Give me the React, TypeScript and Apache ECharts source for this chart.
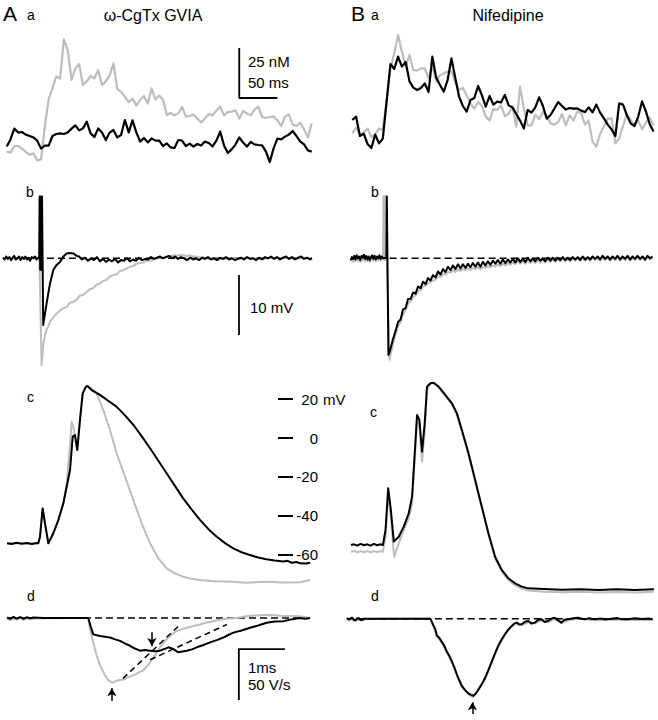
import React, { useEffect, useRef } from "react";
import * as echarts from "echarts";

// ---------- Panel a: [Ca2+] transients (nM above rest), sampled every 5 ms ----------
const A_DT = 5;
const AA_GRAY = [9.2, 8.7, 12, 12, 10.7, 9, 7.7, 8.3, 4.8, 5.3, 21.7, 35.5, 40.8, 46.8, 45.7, 65.3, 60, 45, 50.7, 53, 42.5, 44.3, 47, 45.8, 50, 42.5, 44.3, 47.2, 53.3, 40.5, 39, 36.7, 34, 35.7, 32.2, 35, 37, 33.2, 40.8, 35.3, 37.3, 35.2, 27.5, 28.5, 27.3, 28.3, 31.5, 26.7, 27, 27.8, 25.8, 23.7, 25.8, 28, 27.3, 29.7, 31.7, 27.3, 29, 29.2, 29.8, 25.7, 29.5, 28.3, 27.3, 30.2, 31.7, 26.5, 26, 26.5, 26.7, 24.8, 22, 26.7, 27.8, 22.8, 22, 23.7, 20.3, 16.3, 23.3];
const AA_BLACK = [11.7, 15.3, 20.7, 18.7, 19, 17.7, 17, 16.3, 14.7, 10.7, 12.2, 12.2, 17, 18, 18.3, 18, 18.8, 20.7, 22.3, 19.8, 20.8, 24.2, 18.3, 16.5, 20.8, 18.7, 15, 18.7, 20, 16.3, 17.5, 25, 18.8, 24.8, 18.8, 14.2, 16, 13.8, 15.8, 14.7, 14.7, 12, 13.3, 11.3, 11, 15, 14.7, 12, 13.2, 11.7, 13, 12.2, 14.2, 13.5, 11.8, 14.7, 19.2, 12.3, 8.5, 10.3, 12.7, 16.3, 13.7, 11.7, 14, 12.8, 12.5, 12.3, 9.2, 4, 10.8, 15.7, 15.3, 16.7, 17.7, 19.5, 17, 14.2, 12.8, 9.8, 9.2];
const BA_GRAY = [18.3, 21.2, 17.8, 18.7, 20.7, 16.5, 17.8, 20.8, 20, 35, 50.8, 58.3, 67.5, 59.2, 51.7, 57.5, 50, 49.7, 50.8, 50.8, 45.8, 51.7, 44.2, 47.5, 48.3, 49.2, 49.2, 43.8, 40, 41, 37.3, 33.3, 30.7, 34, 32, 26.7, 24.7, 30.5, 30, 32.3, 27, 28, 31.8, 21.7, 41.7, 30.8, 22.3, 22.3, 27.7, 25.5, 29, 26.7, 23.3, 22.7, 24, 28, 22.3, 27.3, 24.7, 29.2, 28.5, 22.8, 24.7, 14.3, 11.7, 18, 21.7, 25.7, 25.8, 13.3, 15.8, 22, 27.7, 25, 22.3, 24.7, 20.3, 23.7, 26.3, 22.3];
const BA_BLACK = [25, 26.7, 17, 18.2, 13, 11, 17.7, 13.3, 15.7, 34.2, 53, 50.5, 56.7, 51.7, 54, 44.3, 41.2, 40, 41, 43.3, 39, 56.7, 46.2, 42.5, 39.2, 45, 55.8, 46.2, 36.7, 32, 29.2, 35, 36, 42, 37.3, 31.7, 37, 32.7, 34.2, 33.8, 37.5, 32.3, 31.3, 28, 24.7, 20.8, 30, 28.7, 31.3, 36.3, 32, 25.7, 27.5, 30.7, 34, 32, 30.2, 31, 30.7, 30.8, 29.7, 29, 31.3, 28.8, 32.7, 28.7, 25.8, 22.7, 20.3, 17, 33.3, 32.7, 27.5, 23.3, 22, 26.7, 34.3, 29.3, 23, 19.2];
const AA_BAR = { t: 305, v: 36, dt: 50, dv: 25 };

// ---------- Panel b: membrane potential change (mV) vs time (ms) ----------
const AB_BLACK = [[0, 0.1], [0.8, -0.2], [1.6, 0.3], [2.4, -0.1], [3.2, 0.2], [4, -0.3], [4.8, 0.1], [5.6, 0.4], [6.4, -0.2], [7.2, 0], [8, 0.3], [8.8, -0.3], [9.6, 0.2], [10.4, -0.1], [11.2, 0.3], [12, -0.2], [12.8, 0.1], [13.6, -0.4], [14.4, 0.2], [15.2, 0], [16, 0.3], [16.8, -0.2], [17.6, 0.1], [18.1, 0], [18.3, 10.3], [18.6, -1.9], [18.9, 10.3], [19.2, -1.9], [19.5, 10.3], [20.1, -11.1], [21.8, -7.5], [23.5, -4.2], [25.2, -1.9], [26.8, -1.1], [28.5, -0.6], [30.2, 0.3], [31.8, 0.8], [33.5, 0.9], [35.2, 0.8], [36.8, 0.4], [38, 0.3], [39.5, -0.2], [41, 0.1], [42.5, -0.4], [44, 0], [45.5, -0.3], [47, 0.2], [48.5, -0.5], [50, -0.1], [51.5, -0.6], [53, -0.2], [54.5, -0.5], [56, -0.1], [57.5, -0.7], [59, -0.3], [60.5, -0.4], [62, 0], [63.5, -0.5], [65, -0.2], [66.5, -0.4], [68, 0.1], [69.5, -0.3], [71, -0.1], [72.5, -0.2], [74, 0.2], [75.5, -0.1], [77, 0.1], [78.5, 0.3], [80, 0], [81.5, 0.2], [83, 0.4], [84.5, 0], [86, 0.3], [87.5, -0.1], [89, 0.2], [90.5, 0], [92, -0.3], [93.5, 0.1], [95, -0.2], [96.5, 0], [98, -0.3], [99.5, 0.1], [101, -0.1], [102.5, 0.2], [104, -0.2], [105.5, 0], [107, -0.3], [108.5, 0.1], [110, -0.1], [111.5, 0.2], [113, -0.2], [114.5, 0], [116, -0.3], [117.5, -0.1], [119, 0.1], [120.5, -0.2], [122, 0.2], [123.5, -0.1], [125, 0], [126.5, -0.3], [128, 0.1], [129.5, -0.2], [131, 0.2], [132.5, 0], [134, 0.3], [135.5, -0.1], [137, 0.2], [138.5, -0.2], [140, 0.1], [141.5, 0.3], [143, -0.1], [144.5, 0.2], [146, -0.2], [147.5, 0.1], [149, 0.3], [150.5, -0.1], [152, 0.1], [153.5, -0.2], [154.5, 0]];
const AB_GRAY = [[0, 0], [3, 0.1], [6, -0.1], [9, 0.1], [12, -0.1], [15, 0.1], [18.2, 0], [19.3, -17.8], [20.2, -14.2], [21, -12.8], [21.8, -11.9], [22.6, -11.4], [23.5, -10.6], [25, -9.9], [26.8, -9.2], [28.5, -8.7], [30, -8.4], [31.8, -8.1], [33.5, -7.4], [35, -7.3], [36.8, -6.9], [38.5, -6.2], [40, -6.1], [41.8, -5.6], [43.5, -5.1], [45, -5.0], [46.8, -4.4], [48.5, -4.2], [50, -3.8], [51.8, -3.6], [53.5, -3.0], [55.2, -2.8], [57, -2.6], [58.5, -2.1], [60, -2.0], [61.8, -1.7], [63.5, -1.4], [65, -1.3], [66.8, -0.9], [68.5, -0.8], [70, -0.7], [72, -0.4], [73.5, -0.4], [75.2, -0.2], [77, 0], [78.5, 0.1], [80, 0.1], [81.8, 0.3], [83.5, 0.3], [85, 0.5], [87, 0.4], [88.5, 0.6], [90.2, 0.5], [92, 0.4], [93.5, 0.5], [95, 0.3], [97, 0.3], [98.5, 0.1], [100, 0.2], [102, 0], [104, -0.1], [106.8, -0.2], [110, -0.1], [114, 0], [118, -0.1], [122, 0.1], [126, 0], [130, -0.1], [134, 0.1], [138, 0], [142, 0.1], [146, -0.1], [150, 0.1], [154, 0]];
const AB_BAR = { t: 118, v: -12.8, dv: 10 };

const BB_TAIL_T0 = 20;
const BB_TAIL_DT = 1.25;
const BB_BLACK_HEAD = [[0, -0.3], [0.6, 0.2], [1.2, -0.1], [1.8, 0.4], [2.4, -0.2], [3, 0.5], [3.6, 0], [4.2, 0.3], [4.8, -0.3], [5.4, 0.4], [6, 0.1], [6.6, 0.6], [7.2, -0.1], [7.8, 0.4], [8.4, -0.2], [9, 0.3], [9.6, -0.3], [10.2, 0.2], [10.8, 0.5], [11.4, -0.1], [12, 0.4], [12.6, -0.2], [13.2, 0.3], [13.8, 0], [14.4, 0.5], [15, -0.1], [15.6, 0.3], [16.2, 0], [17.9, 0.1], [18.1, 10.3], [18.9, -16.1], [19.4, -15.7]];
const BB_BLACK_TAIL = [-15.0, -13.4, -12.1, -10.6, -10.2, -8.5, -8.3, -6.8, -6.8, -5.7, -5.9, -4.7, -5.0, -3.9, -4.3, -3.3, -3.7, -2.8, -3.2, -2.2, -2.7, -1.8, -2.3, -1.4, -2.0, -1.2, -1.8, -1.0, -1.7, -1.0, -1.6, -0.9, -1.5, -0.8, -1.4, -0.7, -1.4, -0.6, -1.2, -0.5, -1.1, -0.4, -0.9, -0.3, -0.9, -0.2, -0.8, -0.2, -0.7, -0.1, -0.7, 0, -0.6, -0.1, -0.6, 0.1, -0.5, 0, -0.5, 0.1, -0.4, 0, -0.5, 0.1, -0.4, 0.1, -0.4, 0.1, -0.3, 0.2, -0.3, 0.1, -0.3, 0.2, -0.2, 0.2, -0.3, 0.3, -0.2, 0.2, -0.2, 0.3, -0.1, 0.3, -0.2, 0.4, -0.1, 0.3, -0.2, 0.3, -0.1, 0.4, -0.2, 0.3, -0.1, 0.4, -0.2, 0.3, -0.1, 0.4, -0.1, 0.3, -0.2, 0.4, 0, 0.3];
const BB_GRAY_HEAD = [[0, -0.5], [0.6, -0.1], [1.2, -0.6], [1.8, 0], [2.4, -0.5], [3, 0.1], [3.6, -0.4], [4.2, 0], [4.8, -0.6], [5.4, 0], [6, -0.3], [6.6, 0.2], [7.2, -0.5], [7.8, 0], [8.4, -0.5], [9, 0], [9.6, -0.6], [10.2, -0.1], [10.8, 0.2], [11.4, -0.4], [12, 0.1], [12.6, -0.5], [13.2, 0], [13.8, -0.3], [14.4, 0.2], [15, -0.4], [15.6, 0], [16.2, -0.2], [16.4, 10.4], [16.8, -0.3], [17.1, 10.4], [17.5, -0.3], [17.8, 10.4], [18.1, 0], [19.5, -16.9]];
const BB_GRAY_TAIL = [-16.0, -14.3, -12.6, -11.3, -10.6, -9.3, -8.7, -7.6, -7.2, -6.5, -6.2, -5.5, -5.3, -4.7, -4.6, -4.1, -4.0, -3.7, -3.6, -3.0, -3.1, -2.6, -2.7, -2.3, -2.4, -2.0, -2.3, -1.9, -2.1, -1.8, -2.0, -1.7, -1.9, -1.6, -1.8, -1.5, -1.8, -1.4, -1.6, -1.3, -1.5, -1.2, -1.4, -1.0, -1.3, -0.9, -1.2, -0.8, -1.1, -0.7, -1.0, -0.5, -0.9, -0.5, -0.9, -0.4, -0.8, -0.4, -0.8, -0.3, -0.7, -0.3, -0.7, -0.2, -0.6, -0.2, -0.6, -0.2, -0.5, -0.1, -0.5, -0.1, -0.5, 0, -0.4, 0, -0.4, 0.1, -0.4, 0, -0.4, 0.1, -0.3, 0.1, -0.4, 0.2, -0.3, 0.1, -0.4, 0.1, -0.3, 0.2, -0.4, 0.1, -0.3, 0.2, -0.4, 0.1, -0.3, 0.2, -0.3, 0.1, -0.4, 0.2, -0.2, 0.1];

// ---------- Panel c: action potentials (mV) vs time (ms) ----------
const AC_BLACK = [[0, -54.3], [0.1, -54.6], [0.21, -54.0], [0.32, -54.5], [0.43, -54.1], [0.54, -54.6], [0.65, -54.1], [0.68, -54.3], [0.717, -50.9], [0.775, -36.3], [0.826, -44.0], [0.899, -54.3], [1.007, -49.1], [1.116, -42.3], [1.225, -33.7], [1.297, -25.1], [1.37, -16.5], [1.428, 0.7], [1.478, 1.5], [1.529, -6.2], [1.587, 9.3], [1.645, 23.0], [1.717, 26.5], [1.746, 26.8], [1.84, 24.7], [2.02, 22.2], [2.2, 19.2], [2.38, 16.2], [2.56, 11.8], [2.75, 6.7], [2.93, 0.8], [3.11, -5.3], [3.29, -11.7], [3.47, -18.2], [3.65, -24.7], [3.83, -31.1], [4.02, -37], [4.2, -42.3], [4.38, -47], [4.56, -50.9], [4.74, -54.2], [4.92, -56.9], [5.1, -58.9], [5.28, -60.3], [5.46, -61.6], [5.64, -62.5], [5.82, -63.2], [6.01, -63.7], [6.1, -63.3], [6.19, -64.3], [6.3, -63.9], [6.37, -64.6], [6.5, -64.7], [6.59, -64.3]];
const AC_GRAY = [[0, -54.3], [0.2, -54.1], [0.4, -54.4], [0.68, -54.3], [0.717, -50.9], [0.775, -36.3], [0.826, -44.0], [0.899, -54.3], [1.007, -49.1], [1.116, -42.3], [1.225, -33.4], [1.297, -24.2], [1.355, -7.9], [1.406, 8.4], [1.457, 4.1], [1.514, -5.3], [1.587, 9.3], [1.645, 23.0], [1.717, 26.5], [1.746, 26.8], [1.85, 25.5], [1.949, 23.0], [2.094, 14.4], [2.239, 4.1], [2.384, -7.9], [2.565, -19.9], [2.746, -32.0], [2.928, -44.0], [3.109, -54.3], [3.29, -62.0], [3.471, -67.2], [3.65, -69.8], [3.833, -71.5], [4.0, -72.5], [4.196, -73.2], [4.5, -73.8], [4.92, -74.1], [5.2, -74.6], [5.645, -74.1], [6.0, -74.5], [6.37, -74.4], [6.587, -73.2]];
const BC_BLACK = [[0, -55.2], [0.065, -54.8], [0.138, -55.5], [0.21, -54.6], [0.283, -55.3], [0.355, -54.8], [0.428, -55.5], [0.5, -54.6], [0.572, -55.3], [0.645, -54.8], [0.696, -55.2], [0.754, -47.4], [0.812, -25.9], [0.87, -37.1], [0.935, -53.4], [1.043, -50.9], [1.152, -45.7], [1.261, -38.8], [1.333, -30.2], [1.391, -7.9], [1.442, 11.9], [1.493, 9.3], [1.551, -7.0], [1.609, 7.6], [1.659, 26.5], [1.732, 28.2], [1.804, 28.5], [1.913, 26.5], [2.058, 22.2], [2.203, 17.9], [2.312, 12.7], [2.42, 4.1], [2.565, -7.9], [2.71, -21.6], [2.855, -35.4], [3.0, -49.1], [3.145, -61.2], [3.29, -68.0], [3.435, -72.3], [3.58, -74.9], [3.725, -76.6], [3.87, -77.5], [4.2, -77.8], [4.6, -78.2], [5.0, -77.9], [5.4, -78.3], [5.8, -78.0], [6.2, -78.3], [6.61, -78.0]];
const BC_GRAY = [[0, -58.6], [0.07, -58.2], [0.14, -58.9], [0.21, -58.3], [0.28, -58.9], [0.36, -58.3], [0.43, -58.9], [0.5, -58.3], [0.57, -58.8], [0.65, -58.3], [0.696, -58.6], [0.754, -50.9], [0.812, -28.5], [0.87, -40.5], [0.942, -61.2], [1.043, -54.3], [1.152, -47.4], [1.261, -41.4], [1.333, -33.7], [1.391, -11.3], [1.442, 9.3], [1.493, 6.7], [1.551, -12.2], [1.609, 4.1], [1.659, 24.7], [1.732, 28.0], [1.804, 28.3], [1.913, 26.0], [2.058, 21.7], [2.203, 17.3], [2.312, 12.0], [2.42, 3.4], [2.565, -8.6], [2.71, -22.3], [2.855, -36.1], [3.0, -49.8], [3.145, -62.0], [3.29, -68.9], [3.435, -73.2], [3.58, -75.9], [3.725, -77.6], [3.87, -78.6], [4.2, -79.2], [4.6, -79.5], [5.0, -79.3], [5.4, -79.6], [5.8, -79.4], [6.2, -79.6], [6.61, -79.3]];
const C_TICKS = { min: -60, max: 20, step: 20 };

// ---------- Panel d: dV/dt (V/s) vs time (ms) ----------
const AD_BLACK = [[0, 0.6], [0.07, -1.0], [0.14, 1.0], [0.21, -0.6], [0.29, 0.8], [0.36, -1.0], [0.43, 0.6], [0.5, -0.3], [0.58, 0.3], [0.8, 0], [1.2, 0], [1.5, 0], [1.767, 0], [1.826, -9.3], [1.876, -16.1], [2.022, -17.7], [2.13, -18.5], [2.239, -19.2], [2.35, -21.0], [2.457, -22.5], [2.57, -25.2], [2.674, -27.3], [2.78, -30.0], [2.891, -32.1], [3.0, -31.5], [3.109, -32.1], [3.22, -32.6], [3.326, -32.1], [3.42, -30.5], [3.507, -28.8], [3.615, -30.5], [3.724, -33.7], [3.81, -32.9], [3.907, -32.1], [4.02, -30.8], [4.124, -28.8], [4.27, -26.5], [4.413, -24.0], [4.56, -21.8], [4.702, -19.2], [4.82, -16.5], [4.92, -14.4], [5.1, -12.3], [5.283, -9.6], [5.46, -7.5], [5.645, -4.8], [5.82, -3.5], [6.007, -3.2], [6.2, -1.2], [6.37, 0], [6.48, -0.8], [6.587, 0]];
const AD_GRAY = [[0, -0.8], [0.07, -2.2], [0.14, -0.6], [0.21, -1.8], [0.29, -0.4], [0.36, -1.6], [0.43, -0.5], [0.5, -1.2], [0.6, -0.6], [0.9, -0.3], [1.3, 0], [1.767, 0], [1.804, -11.2], [1.877, -24.0], [1.949, -36.9], [2.022, -46.5], [2.13, -56.1], [2.2, -61.0], [2.29, -63.5], [2.4, -61.2], [2.528, -60.3], [2.64, -58.0], [2.746, -56.2], [2.85, -53.8], [2.963, -51.3], [3.05, -47.0], [3.146, -41.7], [3.24, -35.0], [3.326, -28.8], [3.42, -23.5], [3.507, -19.2], [3.6, -15.5], [3.689, -12.9], [3.8, -11.0], [3.907, -9.6], [4.05, -8.0], [4.196, -6.4], [4.34, -4.5], [4.478, -3.3], [4.63, -1.8], [4.776, -0.7], [4.993, 0], [5.2, 1.6], [5.4, 2.4], [5.645, 3.2], [5.85, 2.6], [6.007, 1.6], [6.2, 2.0], [6.37, 1.6], [6.587, 0]];
const AD_TANGENT_GRAY = [[2.52, -59.3], [3.72, -8.4]];
const AD_TANGENT_BLACK = [[3.11, -41], [4.78, -6.4]];
const AD_BAR = { t: 5.04, v: -30.5, dt: 1, dv: 50 };
const BD_BLACK = [[-0.09, 0.6], [-0.043, -0.6], [0.0, 0.8], [0.029, 1.0], [0.065, -1.0], [0.101, -1.6], [0.14, 0.6], [0.174, 0.6], [0.21, -1.2], [0.246, -1.3], [0.29, 0.3], [0.319, 0], [0.6, 0], [1.0, 0], [1.4, 0], [1.732, 0], [1.804, -7.1], [1.84, -10.5], [1.877, -16.7], [1.93, -19.0], [1.986, -23.1], [2.04, -27.0], [2.094, -32.7], [2.15, -37.0], [2.203, -42.3], [2.26, -48.5], [2.312, -55.1], [2.37, -61.5], [2.42, -66.3], [2.49, -70.5], [2.565, -73.7], [2.62, -75.2], [2.674, -76.0], [2.73, -73.5], [2.783, -69.6], [2.855, -64.5], [2.928, -58.3], [3.0, -50.5], [3.072, -42.3], [3.145, -34.0], [3.217, -26.3], [3.29, -20.2], [3.362, -15.1], [3.435, -10.5], [3.507, -7.1], [3.56, -4.8], [3.616, -3.8], [3.67, -5.6], [3.725, -5.4], [3.8, -3.0], [3.87, -2.2], [3.94, -4.8], [4.014, -3.8], [4.09, -1.0], [4.159, -0.6], [4.23, -3.2], [4.304, -2.2], [4.38, 0.3], [4.449, 1.0], [4.52, -1.6], [4.594, -3.8], [4.66, -1.0], [4.739, -0.6], [4.85, 0.6], [4.957, 1.0], [5.1, -0.6], [5.2, 0.6], [5.319, -0.6], [5.45, 0.3], [5.55, -0.8], [5.681, 0], [5.8, 0.8], [5.92, -0.6], [6.043, -0.6], [6.2, 0.6], [6.35, -0.3], [6.5, 0.3], [6.587, -0.6]];
const BD_GRAY = [[-0.09, -0.6], [-0.04, -1.8], [0.0, -0.3], [0.05, -2.0], [0.1, -0.8], [0.15, -1.6], [0.2, -0.5], [0.25, -1.5], [0.32, -0.6], [0.6, -0.3], [1.0, 0], [1.4, 0], [1.732, 0], [1.804, -8.0], [1.877, -17.5], [1.986, -24.0], [2.094, -33.5], [2.203, -43.0], [2.312, -56.0], [2.42, -67.3], [2.565, -75.0], [2.66, -77.5], [2.783, -70.6], [2.928, -59.5], [3.072, -43.5], [3.217, -27.5], [3.362, -16.0], [3.507, -7.8], [3.616, -4.5], [3.725, -6.2], [3.87, -3.2], [4.014, -4.6], [4.159, -1.6], [4.304, -3.0], [4.449, -0.4], [4.594, -4.4], [4.739, -1.6], [4.957, 0], [5.319, -1.4], [5.681, -0.8], [6.043, -1.3], [6.587, -1.2]];
const A_UP_ARROW = { t: 2.28, from: -81.4, to: -69 };
const A_DOWN_ARROW = { t: 3.15, from: -14.1, to: -27.6 };
const B_UP_ARROW = { t: 2.65, from: -94, to: -82.4 };

const FONT = '"Liberation Sans", Arial, Helvetica, sans-serif';
const GRAY = "#bdbdbd";
const BLACK = "#000000";

const uniform = (vals: number[], t0: number, dt: number) => vals.map((v, i) => [t0 + i * dt, v]);

function trace(name: string, data: number[][], g: number, color: string, width: number, z: number, dash?: any): any {
  return {
    type: "line",
    name,
    data,
    xAxisIndex: g,
    yAxisIndex: g,
    symbol: "none",
    silent: true,
    animation: false,
    z,
    lineStyle: { color, width, type: dash || "solid", join: "round", cap: "butt" },
  };
}

function arrowLine(g: number, arrows: { t: number; from: number; to: number }[]): any {
  return {
    type: "line",
    data: [],
    xAxisIndex: g,
    yAxisIndex: g,
    symbol: "none",
    silent: true,
    z: 6,
    markLine: {
      silent: true,
      animation: false,
      symbol: ["none", "arrow"],
      symbolSize: [7, 8],
      label: { show: false },
      lineStyle: { color: BLACK, width: 1.5, type: "solid" },
      data: arrows.map((a) => [{ coord: [a.t, a.from] }, { coord: [a.t, a.to] }]),
    },
  };
}

function txt(text: string, x: number, y: number, size: number, align = "left"): any {
  return {
    type: "text",
    x,
    y,
    silent: true,
    style: { text, fill: BLACK, fontSize: size, fontFamily: FONT, textAlign: align, textVerticalAlign: "middle" },
  };
}

export default function App() {
  const ref = useRef<HTMLDivElement>(null);
  useEffect(() => {
    if (!ref.current) return;
    const chart = echarts.init(ref.current, null, { renderer: "svg" });

    const grids = [
      { left: 6.7, top: 30, width: 305, height: 140 }, // 0 Aa
      { left: 352.3, top: 30, width: 301.2, height: 140 }, // 1 Ba
      { left: 3, top: 186.3, width: 320, height: 192 }, // 2 Ab
      { left: 350.7, top: 186.3, width: 308, height: 192 }, // 3 Bb
      { left: 2.4, top: 379.8, width: 326.6, height: 213.4 }, // 4 Ac
      { left: 346.4, top: 379.8, width: 312.8, height: 213.4 }, // 5 Bc
      { left: 2.4, top: 597.5, width: 326.6, height: 124.8 }, // 6 Ad
      { left: 346.4, top: 598.5, width: 312.8, height: 124.8 }, // 7 Bd
      { left: 278, top: 399.2, width: 40, height: 155.2 }, // 8 Ac voltage axis
    ];
    const xr = [[0, 400], [0, 395], [0, 160], [0, 154], [-0.1, 7], [-0.1, 6.7], [-0.1, 7], [-0.1, 6.7], [0, 1]];
    const yr = [[0, 70], [0, 70], [-20, 12], [-20, 12], [-80, 30], [-80, 30], [-100, 20], [-100, 20], [C_TICKS.min, C_TICKS.max]];

    const xAxis = xr.map((r, i) => ({ type: "value", gridIndex: i, min: r[0], max: r[1], show: false }));
    const yAxis: any[] = yr.map((r, i) => ({ type: "value", gridIndex: i, min: r[0], max: r[1], show: false }));
    yAxis[8] = {
      type: "value",
      gridIndex: 8,
      min: C_TICKS.min,
      max: C_TICKS.max,
      interval: C_TICKS.step,
      position: "left",
      show: true,
      axisLine: { show: false },
      splitLine: { show: false },
      axisTick: { show: true, inside: true, length: 15, lineStyle: { color: BLACK, width: 2 } },
      axisLabel: {
        show: true,
        inside: true,
        margin: 40,
        align: "right",
        color: BLACK,
        fontSize: 15,
        fontFamily: FONT,
        formatter: (v: number) => String(v),
      },
    };

    const series: any[] = [
      // a
      trace("Aa ctrl", uniform(AA_GRAY, 0, A_DT), 0, GRAY, 2.2, 2),
      trace("Aa drug", uniform(AA_BLACK, 0, A_DT), 0, BLACK, 2.2, 3),
      trace("Ba ctrl", uniform(BA_GRAY, 0, A_DT), 1, GRAY, 2.2, 2),
      trace("Ba drug", uniform(BA_BLACK, 0, A_DT), 1, BLACK, 2.2, 3),
      trace("Aa bar", [[AA_BAR.t, AA_BAR.v + AA_BAR.dv], [AA_BAR.t, AA_BAR.v], [AA_BAR.t + AA_BAR.dt, AA_BAR.v]], 0, BLACK, 1.8, 4),
      // b
      trace("Ab base", [[0, 0], [154.5, 0]], 2, BLACK, 1.5, 1, [7, 4]),
      trace("Ab ctrl", AB_GRAY, 2, GRAY, 2, 2),
      trace("Ab drug", AB_BLACK, 2, BLACK, 2, 3),
      trace("Ab bar", [[AB_BAR.t, AB_BAR.v + AB_BAR.dv], [AB_BAR.t, AB_BAR.v]], 2, BLACK, 1.8, 4),
      trace("Bb base", [[19.5, 0], [151, 0]], 3, BLACK, 1.5, 1, [7, 4]),
      trace("Bb ctrl", [...BB_GRAY_HEAD, ...uniform(BB_GRAY_TAIL, BB_TAIL_T0, BB_TAIL_DT)], 3, GRAY, 2, 2),
      trace("Bb drug", [...BB_BLACK_HEAD, ...uniform(BB_BLACK_TAIL, BB_TAIL_T0, BB_TAIL_DT)], 3, BLACK, 2, 3),
      // c
      trace("Ac ctrl", AC_GRAY, 4, GRAY, 2, 2),
      trace("Ac drug", AC_BLACK, 4, BLACK, 2, 3),
      trace("Bc ctrl", BC_GRAY, 5, GRAY, 2, 2),
      trace("Bc drug", BC_BLACK, 5, BLACK, 2, 3),
      { type: "line", data: [], xAxisIndex: 8, yAxisIndex: 8, symbol: "none", silent: true },
      // d
      trace("Ad base", [[0, 0], [6.59, 0]], 6, BLACK, 1.5, 1, [7, 4]),
      trace("Ad ctrl", AD_GRAY, 6, GRAY, 2, 2),
      trace("Ad drug", AD_BLACK, 6, BLACK, 2, 3),
      trace("Ad tan1", AD_TANGENT_GRAY, 6, BLACK, 1.5, 5, [6, 4]),
      trace("Ad tan2", AD_TANGENT_BLACK, 6, BLACK, 1.5, 5, [6, 4]),
      trace("Ad bar", [[AD_BAR.t, AD_BAR.v - AD_BAR.dv], [AD_BAR.t, AD_BAR.v], [AD_BAR.t + AD_BAR.dt, AD_BAR.v]], 6, BLACK, 1.8, 4),
      arrowLine(6, [A_UP_ARROW, A_DOWN_ARROW]),
      trace("Bd base", [[-0.09, 0], [6.59, 0]], 7, BLACK, 1.5, 4, [7, 4]),
      trace("Bd ctrl", BD_GRAY, 7, GRAY, 2, 2),
      trace("Bd drug", BD_BLACK, 7, BLACK, 2, 3),
      arrowLine(7, [B_UP_ARROW]),
    ];

    const graphic = [
      txt("A", 3, 13, 21),
      txt("a", 27, 15, 14),
      txt("ω-CgTx GVIA", 153, 15.5, 16, "center"),
      txt("B", 351, 13, 21),
      txt("a", 371, 15, 14),
      txt("Nifedipine", 508, 15.5, 16, "center"),
      txt("25 nM", 248, 61, 15),
      txt("50 ms", 248, 82, 15),
      txt("b", 26, 192, 14),
      txt("b", 371, 192, 14),
      txt("10 mV", 250, 307, 15),
      txt("c", 27, 397, 14),
      txt("c", 370, 412, 14),
      txt("mV", 323, 399.2, 15),
      txt("d", 27, 596, 14),
      txt("d", 371, 596, 14),
      txt("1ms", 248, 667, 15),
      txt("50 V/s", 248, 684, 15),
    ];

    chart.setOption({
      animation: false,
      backgroundColor: "#ffffff",
      grid: grids.map((g) => ({ ...g, containLabel: false, show: false })),
      xAxis,
      yAxis,
      series,
      graphic,
    });
    return () => chart.dispose();
  }, []);

  return (
    <div
      ref={ref}
      style={{ position: "fixed", left: 0, top: 0, width: 658, height: 720, background: "#fff" }}
    />
  );
}
